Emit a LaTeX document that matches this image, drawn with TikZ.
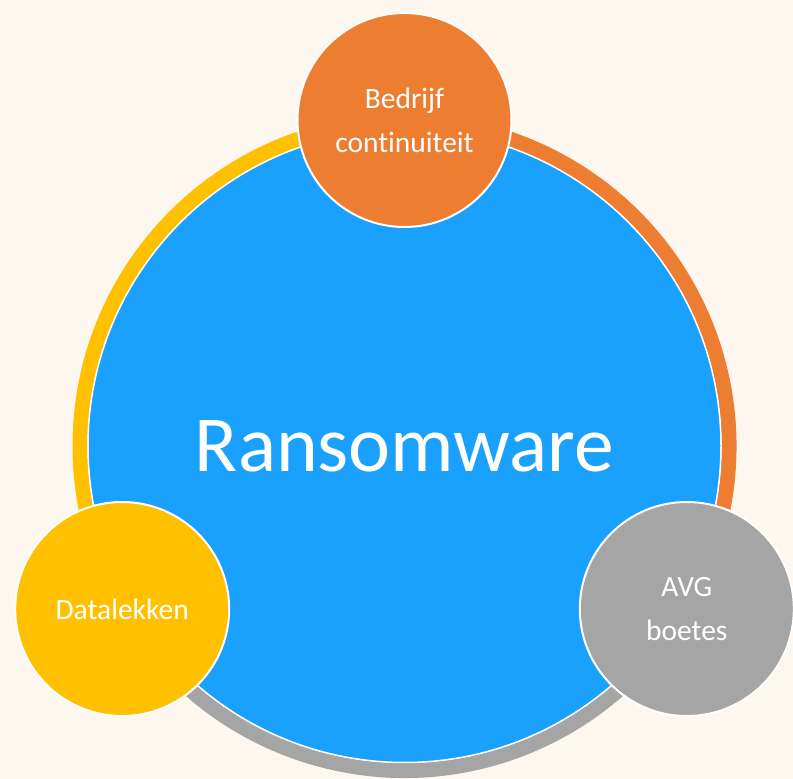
\documentclass[tikz,border=0pt]{standalone}
\usepackage{fontspec}
\setmainfont{Carlito}[Ligatures=NoCommon]
\usetikzlibrary{positioning,calc}
\definecolor{ransomblue}{RGB}{26,160,253}
\definecolor{ransomorange}{RGB}{237,125,49}
\definecolor{ransomyellow}{RGB}{255,192,0}
\definecolor{ransomgray}{RGB}{165,165,165}
\definecolor{paper}{RGB}{254,247,240}

\begin{document}
\begin{tikzpicture}[
    bigcircle/.style={circle, draw=white, line width=1.5pt, fill=ransomblue, minimum size=633pt, inner sep=0pt, text=white, font=\fontsize{79.5}{79.5}\selectfont},
    smallcircle/.style={circle, draw=white, line width=2pt, minimum size=214pt, inner sep=0pt, text=white, align=center, font=\fontsize{29.5}{44}\selectfont},
    ring/.style={line width=15pt}
]
    % Background
    \fill[paper] (0,0) rectangle (793pt,779pt);
    \useasboundingbox (0,0) rectangle (793pt,779pt);
    \coordinate (c) at (404.5pt,333pt);

    % Outer ring
    \draw[ring, ransomyellow] ($(c)+(90:324.5pt)$) arc[start angle=90, end angle=210, radius=324.5pt];
    \draw[ring, ransomgray] ($(c)+(210:324.5pt)$) arc[start angle=210, end angle=330, radius=324.5pt];
    \draw[ring, ransomorange] ($(c)+(-30:324.5pt)$) arc[start angle=-30, end angle=90, radius=324.5pt];

    % Main circle
    \node[bigcircle] (ransom) at (c) {Ransomware};

    % Outer circles
    \node[smallcircle, fill=ransomorange] (continuity) at ($(c)+(90:326pt)$) {Bedrijf\\continuiteit};
    \node[smallcircle, fill=ransomyellow] (leaks) at ($(c)+(210:326pt)$) {Datalekken};
    \node[smallcircle, fill=ransomgray] (fines) at ($(c)+(330:326pt)$) {AVG\\boetes};
\end{tikzpicture}
\end{document}
